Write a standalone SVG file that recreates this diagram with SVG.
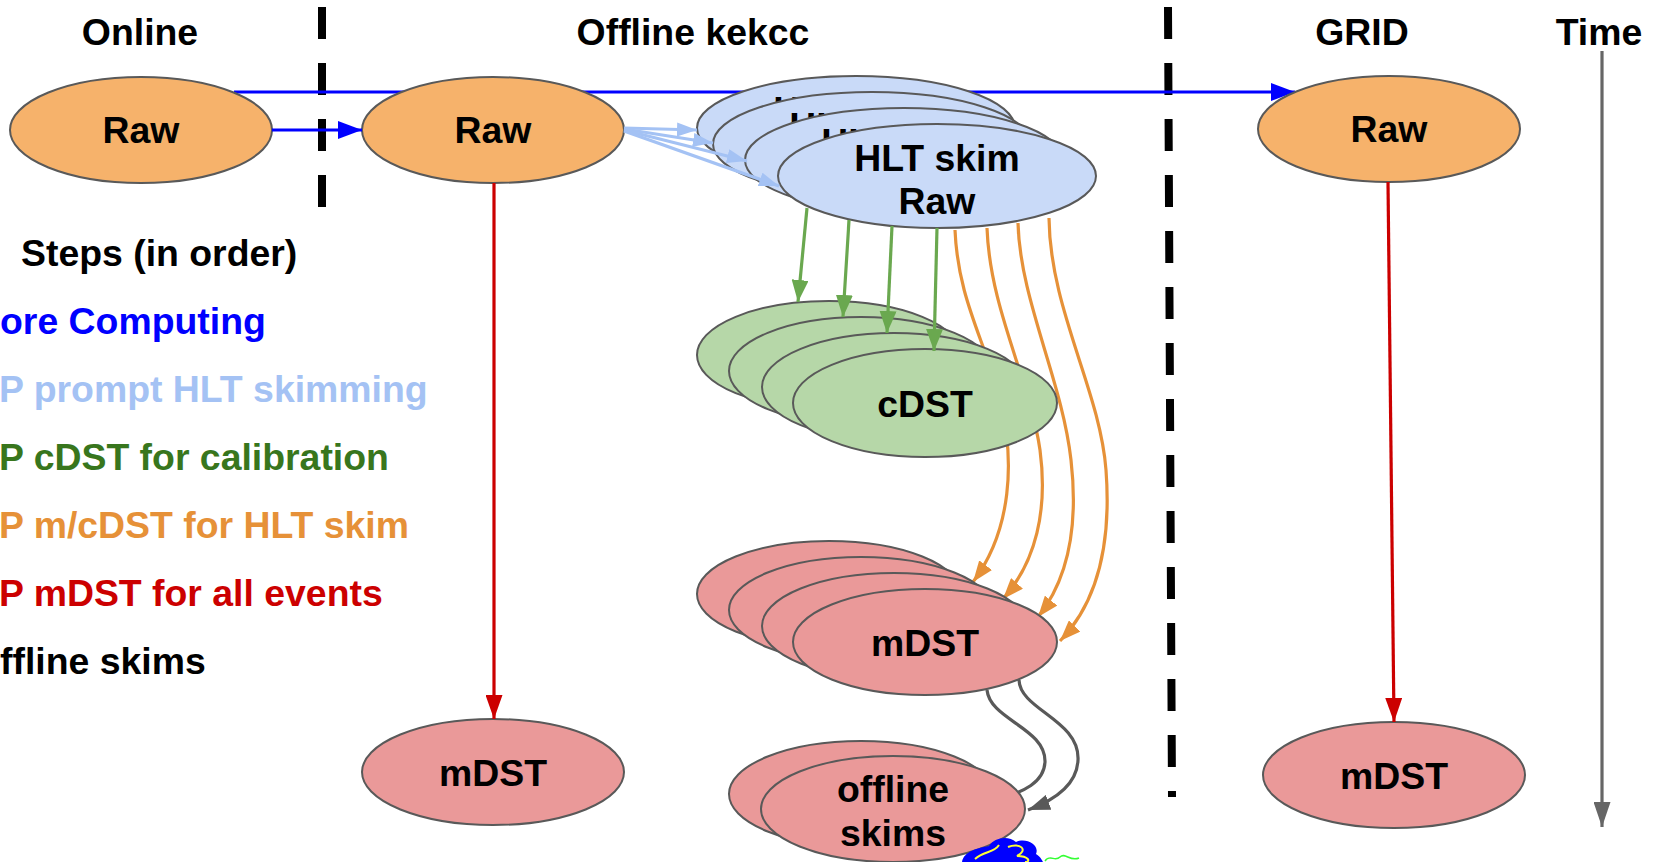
<svg xmlns="http://www.w3.org/2000/svg" width="1654" height="862" viewBox="0 0 1654 862">
<style>
text{font-family:"Liberation Sans",Arial,sans-serif;font-weight:bold;font-size:37.4px;fill:#000}
.c{text-anchor:middle}
ellipse{stroke:#595959;stroke-width:2}
.or{fill:#f6b26b}.lb{fill:#c9daf8}.gr{fill:#b6d7a8}.rd{fill:#ea9999}
.ln{fill:none;stroke-width:3.2}
</style>
<defs>
<marker id="mBlue" markerUnits="userSpaceOnUse" markerWidth="24" markerHeight="18" refX="24" refY="9" orient="auto"><path d="M0,0 L24,9 L0,18 z" fill="#0000ff"/></marker>
<marker id="mLB" markerUnits="userSpaceOnUse" markerWidth="20" markerHeight="14" refX="20" refY="7" orient="auto"><path d="M0,0 L20,7 L0,14 z" fill="#a4c2f4"/></marker>
<marker id="mGr" markerUnits="userSpaceOnUse" markerWidth="22" markerHeight="17" refX="22" refY="8.5" orient="auto"><path d="M0,0 L22,8.5 L0,17 z" fill="#6aa84f"/></marker>
<marker id="mOr" markerUnits="userSpaceOnUse" markerWidth="21" markerHeight="16" refX="21" refY="8" orient="auto"><path d="M0,0 L21,8 L0,16 z" fill="#e69138"/></marker>
<marker id="mRd" markerUnits="userSpaceOnUse" markerWidth="24" markerHeight="17" refX="24" refY="8.5" orient="auto"><path d="M0,0 L24,8.5 L0,17 z" fill="#cc0000"/></marker>
<marker id="mGy" markerUnits="userSpaceOnUse" markerWidth="22" markerHeight="16" refX="22" refY="8" orient="auto"><path d="M0,0 L22,8 L0,16 z" fill="#595959"/></marker>
<marker id="mTm" markerUnits="userSpaceOnUse" markerWidth="25" markerHeight="17" refX="25" refY="8.5" orient="auto"><path d="M0,0 L25,8.5 L0,17 z" fill="#666666"/></marker>
</defs>
<rect width="1654" height="862" fill="#ffffff"/>

<g id="headers">
<text class="c" x="140" y="45">Online</text>
<text class="c" x="693" y="45">Offline kekcc</text>
<text class="c" x="1362" y="45">GRID</text>
<text class="c" x="1599" y="45">Time</text>
</g>

<g id="legend">
<text x="21" y="266">Steps (in order)</text>
<text x="0" y="334" style="fill:#0000ff">ore Computing</text>
<text x="-1" y="402" style="fill:#a4c2f4">P prompt HLT skimming</text>
<text x="-1" y="470" style="fill:#38761d">P cDST for calibration</text>
<text x="-1" y="538" style="fill:#e69138">P m/cDST for HLT skim</text>
<text x="-1" y="606" style="fill:#cc0000">P mDST for all events</text>
<text x="0" y="674">ffline skims</text>
</g>

<g id="dividers" stroke="#000" stroke-width="8" stroke-dasharray="32 24">
<line x1="322" y1="7" x2="322" y2="207"/>
<line x1="1168" y1="7" x2="1172" y2="797"/>
</g>

<g id="connectors-back">
<path class="ln" d="M234,92 L1295,92" stroke="#0000ff" stroke-width="3.5" marker-end="url(#mBlue)"/>
<path class="ln" stroke="#e69138" stroke-width="3.5" d="M955,230 C958,300 985,340 1000,400 C1015,460 1012,530 973,582" marker-end="url(#mOr)"/>
<path class="ln" stroke="#e69138" stroke-width="3.5" d="M987,228 C990,310 1030,380 1040,450 C1048,510 1036,562 1003,599" marker-end="url(#mOr)"/>
<path class="ln" stroke="#e69138" stroke-width="3.5" d="M1018,223 C1020,300 1062,380 1071,460 C1079,530 1066,582 1038,617" marker-end="url(#mOr)"/>
<path class="ln" stroke="#e69138" stroke-width="3.5" d="M1049,218 C1050,310 1100,390 1106,470 C1112,550 1094,606 1060,641" marker-end="url(#mOr)"/>
<path class="ln" stroke="#595959" stroke-width="3.5" d="M987,690 C990,720 1046,728 1045,762 C1044,782 1025,792 995,800" marker-end="url(#mGy)"/>
<path class="ln" stroke="#595959" stroke-width="3.5" d="M1019,680 C1020,710 1080,720 1078,760 C1077,785 1055,800 1028,810" marker-end="url(#mGy)"/>
</g>

<g id="online-raw"><ellipse class="or" cx="141" cy="130" rx="131" ry="53"/><text class="c" x="141" y="143">Raw</text></g>
<g id="offline-raw"><ellipse class="or" cx="493" cy="130" rx="131" ry="53"/><text class="c" x="493" y="143">Raw</text></g>
<g id="grid-raw"><ellipse class="or" cx="1389" cy="129" rx="131" ry="53"/><text class="c" x="1389" y="142">Raw</text></g>

<g id="hlt-skim-raw">
<ellipse class="lb" cx="856" cy="128" rx="159" ry="52"/><text class="c" x="856" y="123">HLT skim</text><text class="c" x="856" y="166">Raw</text>
<ellipse class="lb" cx="872" cy="144" rx="159" ry="52"/><text class="c" x="872" y="139">HLT skim</text><text class="c" x="872" y="182">Raw</text>
<ellipse class="lb" cx="904" cy="160" rx="159" ry="52"/><text class="c" x="904" y="155">HLT skim</text><text class="c" x="904" y="198">Raw</text>
<ellipse class="lb" cx="937" cy="176" rx="159" ry="52"/><text class="c" x="937" y="171">HLT skim</text><text class="c" x="937" y="214">Raw</text>
</g>

<g id="cdst">
<ellipse class="gr" cx="829" cy="355" rx="132" ry="54"/>
<ellipse class="gr" cx="861" cy="371" rx="132" ry="54"/>
<ellipse class="gr" cx="894" cy="387" rx="132" ry="54"/>
<ellipse class="gr" cx="925" cy="403" rx="132" ry="54"/><text class="c" x="925" y="417">cDST</text>
</g>

<g id="mdst-stack">
<ellipse class="rd" cx="829" cy="594" rx="132" ry="53"/>
<ellipse class="rd" cx="861" cy="610" rx="132" ry="53"/>
<ellipse class="rd" cx="894" cy="626" rx="132" ry="53"/>
<ellipse class="rd" cx="925" cy="642" rx="132" ry="53"/><text class="c" x="925" y="656">mDST</text>
</g>

<g id="mdst-offline"><ellipse class="rd" cx="493" cy="772" rx="131" ry="53"/><text class="c" x="493" y="786">mDST</text></g>
<g id="mdst-grid"><ellipse class="rd" cx="1394" cy="775" rx="131" ry="53"/><text class="c" x="1394" y="789">mDST</text></g>

<g id="offline-skims">
<ellipse class="rd" cx="861" cy="794" rx="132" ry="53"/>
<ellipse class="rd" cx="893" cy="809" rx="132" ry="53"/>
<text class="c" x="893" y="802">offline</text><text class="c" x="893" y="846">skims</text>
</g>

<g id="logo-fragment">
<path d="M962,862 C964,851 978,848 989,846 C994,838 1008,835 1016,842 C1026,837 1040,845 1036,854 C1041,857 1043,862 1043,862 Z" fill="#0000ff"/>
<path d="M975,859 C984,851 994,853 999,845 M1008,847 C1020,842 1029,850 1017,856 C1029,856 1031,862 1025,862" fill="none" stroke="#ffff33" stroke-width="2"/>
<path d="M1045,861 C1050,854 1055,862 1060,857 C1065,852 1070,862 1079,858" fill="none" stroke="#33ff33" stroke-width="1.5"/>
</g>

<g id="connectors">
<path class="ln" d="M272,130 L362,130" stroke="#0000ff" stroke-width="3.5" marker-end="url(#mBlue)"/>
<path class="ln" stroke="#a4c2f4" d="M624,128 L697,130" marker-end="url(#mLB)"/>
<path class="ln" stroke="#a4c2f4" d="M624,129 L713,143" marker-end="url(#mLB)"/>
<path class="ln" stroke="#a4c2f4" d="M624,130 L747,161" marker-end="url(#mLB)"/>
<path class="ln" stroke="#a4c2f4" d="M624,131 L779,186" marker-end="url(#mLB)"/>
<path class="ln" stroke="#6aa84f" stroke-width="3.5" d="M807,208 L798,302" marker-end="url(#mGr)"/>
<path class="ln" stroke="#6aa84f" stroke-width="3.5" d="M849,220 L843,317" marker-end="url(#mGr)"/>
<path class="ln" stroke="#6aa84f" stroke-width="3.5" d="M892,226 L887,333" marker-end="url(#mGr)"/>
<path class="ln" stroke="#6aa84f" stroke-width="3.5" d="M937,228 L934,351" marker-end="url(#mGr)"/>
<path class="ln" stroke="#cc0000" stroke-width="2.8" d="M494,183 L494,719" marker-end="url(#mRd)"/>
<path class="ln" stroke="#cc0000" stroke-width="2.8" d="M1388,182 L1394,722" marker-end="url(#mRd)"/>
<path class="ln" stroke="#666666" d="M1602,51 L1602,827" marker-end="url(#mTm)"/>
</g>
</svg>
